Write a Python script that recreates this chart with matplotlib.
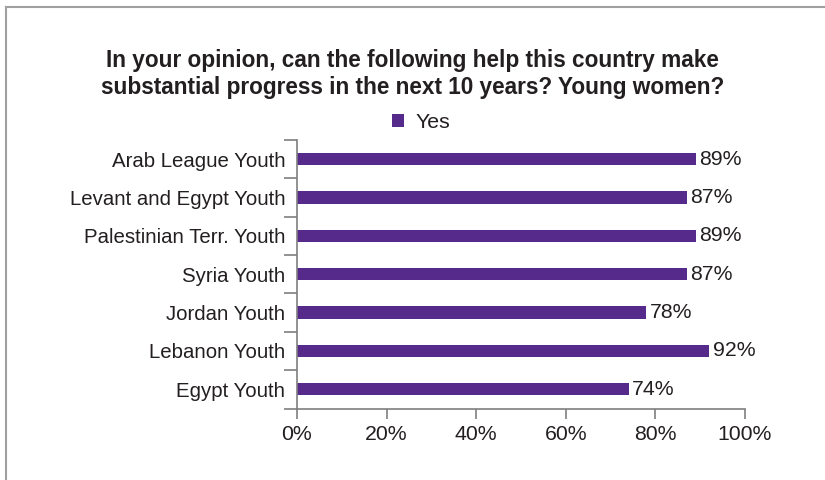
import matplotlib
matplotlib.use("Agg")
import matplotlib.pyplot as plt
from matplotlib.lines import Line2D
from matplotlib.patches import Patch

plt.rcParams['font.family'] = ['Liberation Sans', 'DejaVu Sans']

categories = ["Arab League Youth", "Levant and Egypt Youth", "Palestinian Terr. Youth",
              "Syria Youth", "Jordan Youth", "Lebanon Youth", "Egypt Youth"]
values = [89, 87, 89, 87, 78, 92, 74]
xticks = [0, 20, 40, 60, 80, 100]
xticklabels = ["0%", "20%", "40%", "60%", "80%", "100%"]
title = "In your opinion, can the following help this country make\nsubstantial progress in the next 10 years? Young women?"
series_name = "Yes"

bar_color = "#562A8A"
text_color = "#231F20"
axis_color = "#7F7F7F"

fig = plt.figure(figsize=(8.25, 4.8), dpi=100)
ax = fig.add_axes([297/825, 1 - 408.5/480, (745 - 297)/825, (408.5 - 140)/480])

n = len(categories)
ypos = list(range(n))[::-1]
ax.barh(ypos, values, height=0.32, color=bar_color)
for y, v in zip(ypos, values):
    ax.text(v + 0.8, y, f"{v}%", va="center", ha="left", fontsize=15.3, color=text_color)

ax.set_xlim(0, 100)
ax.set_ylim(-0.5, n - 0.5)
ax.set_xticks(xticks)
ax.set_xticklabels(xticklabels, fontsize=15.3, color=text_color)
ax.set_yticks(ypos)
ax.set_yticklabels(categories, fontsize=14.7, color=text_color)
ax.tick_params(axis='y', length=0, pad=8.5)
ax.tick_params(axis='x', length=7, width=1.2, color=axis_color, pad=5, direction='out')
# boundary ticks on y axis
ax.set_yticks([i - 0.5 for i in range(n + 1)], minor=True)
ax.tick_params(axis='y', which='minor', length=9.5, width=1.2, color=axis_color, direction='out')
for s in ['top', 'right']:
    ax.spines[s].set_visible(False)
for s in ['left', 'bottom']:
    ax.spines[s].set_color(axis_color)
    ax.spines[s].set_linewidth(1.2)

fig.text(0.50, 0.845, title, ha="center", va="center", fontsize=16.3,
         fontweight="bold", color=text_color, linespacing=1.22)

handles = [Patch(facecolor=bar_color, label=series_name)]
fig.legend(handles=handles, loc="center", bbox_to_anchor=(0.510, 0.745), frameon=False,
           fontsize=15.3, handlelength=0.6, handleheight=0.6, handletextpad=0.5,
           labelcolor=text_color)

# outer frame lines
fig.add_artist(Line2D([6/825, 6/825], [0, 1 - 7/480], transform=fig.transFigure,
                      color="#A0A0A0", lw=1.5))
fig.add_artist(Line2D([6/825, 1], [1 - 7/480, 1 - 7/480], transform=fig.transFigure,
                      color="#A0A0A0", lw=1.5))

fig.savefig("out.png", dpi=100)
